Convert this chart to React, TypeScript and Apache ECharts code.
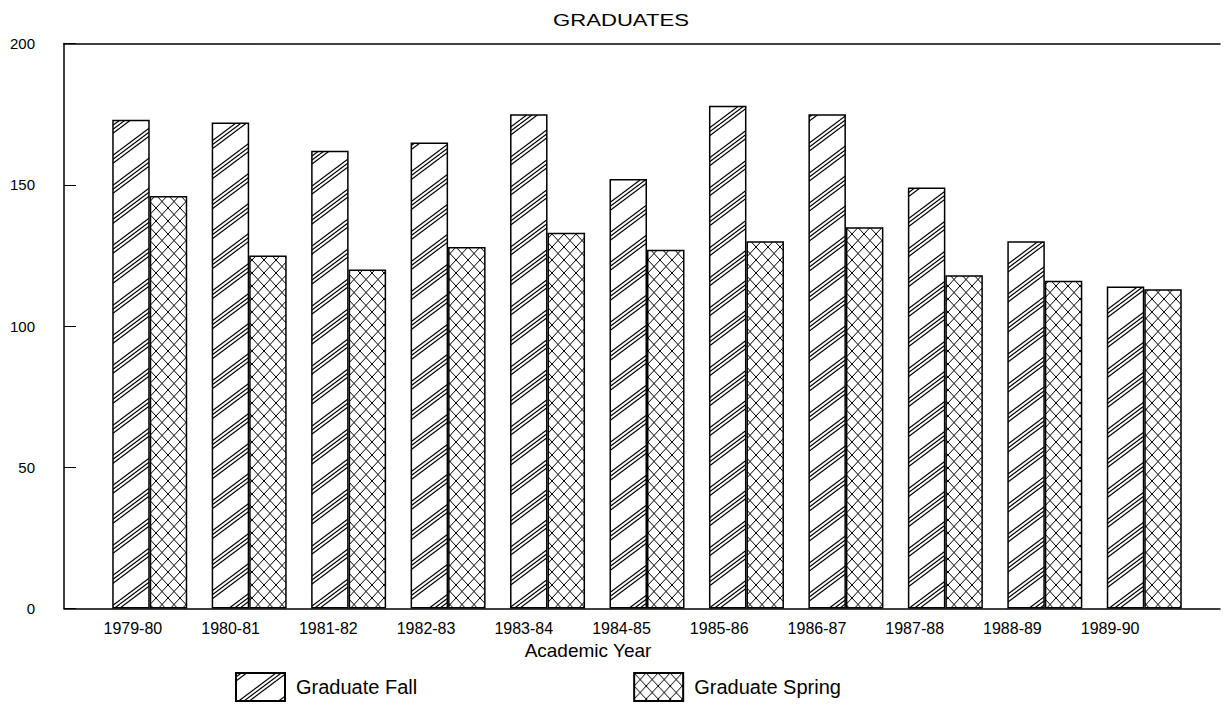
import React, { useEffect, useRef } from 'react';
import * as echarts from 'echarts';

const categories = ['1979-80', '1980-81', '1981-82', '1982-83', '1983-84', '1984-85', '1985-86', '1986-87', '1987-88', '1988-89', '1989-90'];
const graduateFall = [173, 172, 162, 165, 175, 152, 178, 175, 149, 130, 114];
const graduateSpring = [146, 125, 120, 128, 133, 127, 130, 135, 118, 116, 113];
const seriesNames = ['Graduate Fall', 'Graduate Spring'];
const titleText = 'GRADUATES';
const xAxisName = 'Academic Year';
const yMin = 0;
const yMax = 200;
const yInterval = 50;

const FONT = '"Liberation Sans", Arial, Helvetica, sans-serif';

function makeDiagonal(): HTMLCanvasElement {
  const W = 40, H = 30;
  const c = document.createElement('canvas');
  c.width = W; c.height = H;
  const ctx = c.getContext('2d')!;
  ctx.fillStyle = '#fff';
  ctx.fillRect(0, 0, W, H);
  ctx.strokeStyle = '#000';
  ctx.lineWidth = 1.2;
  for (const off of [0, 4, 8]) {
    for (const k of [-1, 0, 1]) {
      const c0 = off + k * H;
      ctx.beginPath();
      ctx.moveTo(0, H + c0);
      ctx.lineTo(W, c0);
      ctx.stroke();
    }
  }
  return c;
}

function makeCross(): HTMLCanvasElement {
  const W = 12, H = 13;
  const c = document.createElement('canvas');
  c.width = W; c.height = H;
  const ctx = c.getContext('2d')!;
  ctx.fillStyle = '#fff';
  ctx.fillRect(0, 0, W, H);
  ctx.strokeStyle = '#000';
  ctx.lineWidth = 1.0;
  const ex = 2, ey = (2 * H) / W;
  ctx.beginPath();
  ctx.moveTo(-ex, -ey);
  ctx.lineTo(W + ex, H + ey);
  ctx.moveTo(-ex, H + ey);
  ctx.lineTo(W + ex, -ey);
  ctx.stroke();
  return c;
}

export default function App() {
  const ref = useRef<HTMLDivElement>(null);
  useEffect(() => {
    if (!ref.current) return;
    const chart = echarts.init(ref.current, undefined, { renderer: 'svg' });
    const diag = makeDiagonal();
    const cross = makeCross();
    const black = { color: '#000', width: 1.5 };
    const top = 43.5;
    const bottom = 95.5;
    const option: any = {
      animation: false,
      backgroundColor: '#fff',
      textStyle: { fontFamily: FONT, color: '#000' },
      graphic: [
        {
          type: 'text',
          x: 621,
          y: 20,
          scaleX: 1.3,
          style: {
            text: titleText,
            font: `17px ${FONT}`,
            fill: '#000',
            textAlign: 'center',
            textVerticalAlign: 'middle',
          },
        },
      ],
      legend: {
        left: 235,
        top: 672,
        padding: 0,
        icon: 'rect',
        itemWidth: 49,
        itemHeight: 28,
        itemGap: 216,
        selectedMode: false,
        data: seriesNames,
        textStyle: { fontSize: 20, color: '#000', fontFamily: FONT, padding: [0, 0, 0, 6] },
      },
      grid: [
        { left: 64, right: 4, top, bottom },
        { left: 100, right: 30, top, bottom },
        { left: 84, right: 65, top, bottom },
      ],
      xAxis: [
        {
          gridIndex: 0, type: 'value', min: 0, max: 1, position: 'bottom',
          axisLine: { show: true, onZero: false, lineStyle: black },
          axisTick: { show: false }, axisLabel: { show: false }, splitLine: { show: false },
        },
        {
          gridIndex: 0, type: 'value', min: 0, max: 1, position: 'top',
          axisLine: { show: true, onZero: false, lineStyle: black },
          axisTick: { show: false }, axisLabel: { show: false }, splitLine: { show: false },
        },
        {
          gridIndex: 1, type: 'category', data: categories,
          axisLine: { show: false }, axisTick: { show: false }, axisLabel: { show: false },
        },
        {
          gridIndex: 2, type: 'category', data: categories,
          axisLine: { show: false }, axisTick: { show: false },
          axisLabel: { show: true, interval: 0, fontSize: 16, color: '#000', margin: 12, fontFamily: FONT },
          name: xAxisName,
          nameLocation: 'middle',
          nameGap: 32,
          nameTextStyle: { fontSize: 19, color: '#000', fontFamily: FONT, padding: [0, 67, 0, 0] },
        },
      ],
      yAxis: [
        {
          gridIndex: 0, type: 'value', min: yMin, max: yMax, interval: yInterval,
          axisLine: { show: true, onZero: false, lineStyle: black },
          axisTick: { show: true, inside: true, length: 12, lineStyle: { color: '#000', width: 1 } },
          axisLabel: { fontSize: 15, color: '#000', margin: 29, fontFamily: FONT },
          splitLine: { show: false },
        },
        { gridIndex: 1, type: 'value', min: yMin, max: yMax, show: false },
        { gridIndex: 2, type: 'value', min: yMin, max: yMax, show: false },
      ],
      series: [
        {
          name: seriesNames[0],
          type: 'bar',
          xAxisIndex: 2,
          yAxisIndex: 1,
          data: graduateFall,
          barWidth: 37.5,
          barGap: '0%',
          itemStyle: { color: { image: diag, repeat: 'repeat' }, borderColor: '#000', borderWidth: 1.5 },
        },
        {
          name: seriesNames[1],
          type: 'bar',
          xAxisIndex: 2,
          yAxisIndex: 1,
          data: graduateSpring,
          barWidth: 37.5,
          barGap: '0%',
          itemStyle: { color: { image: cross, repeat: 'repeat' }, borderColor: '#000', borderWidth: 1.5 },
        },
      ],
    };
    chart.setOption(option);
    return () => chart.dispose();
  }, []);
  return <div ref={ref} style={{ position: 'fixed', left: 0, top: 0, width: 1224, height: 704 }} />;
}
